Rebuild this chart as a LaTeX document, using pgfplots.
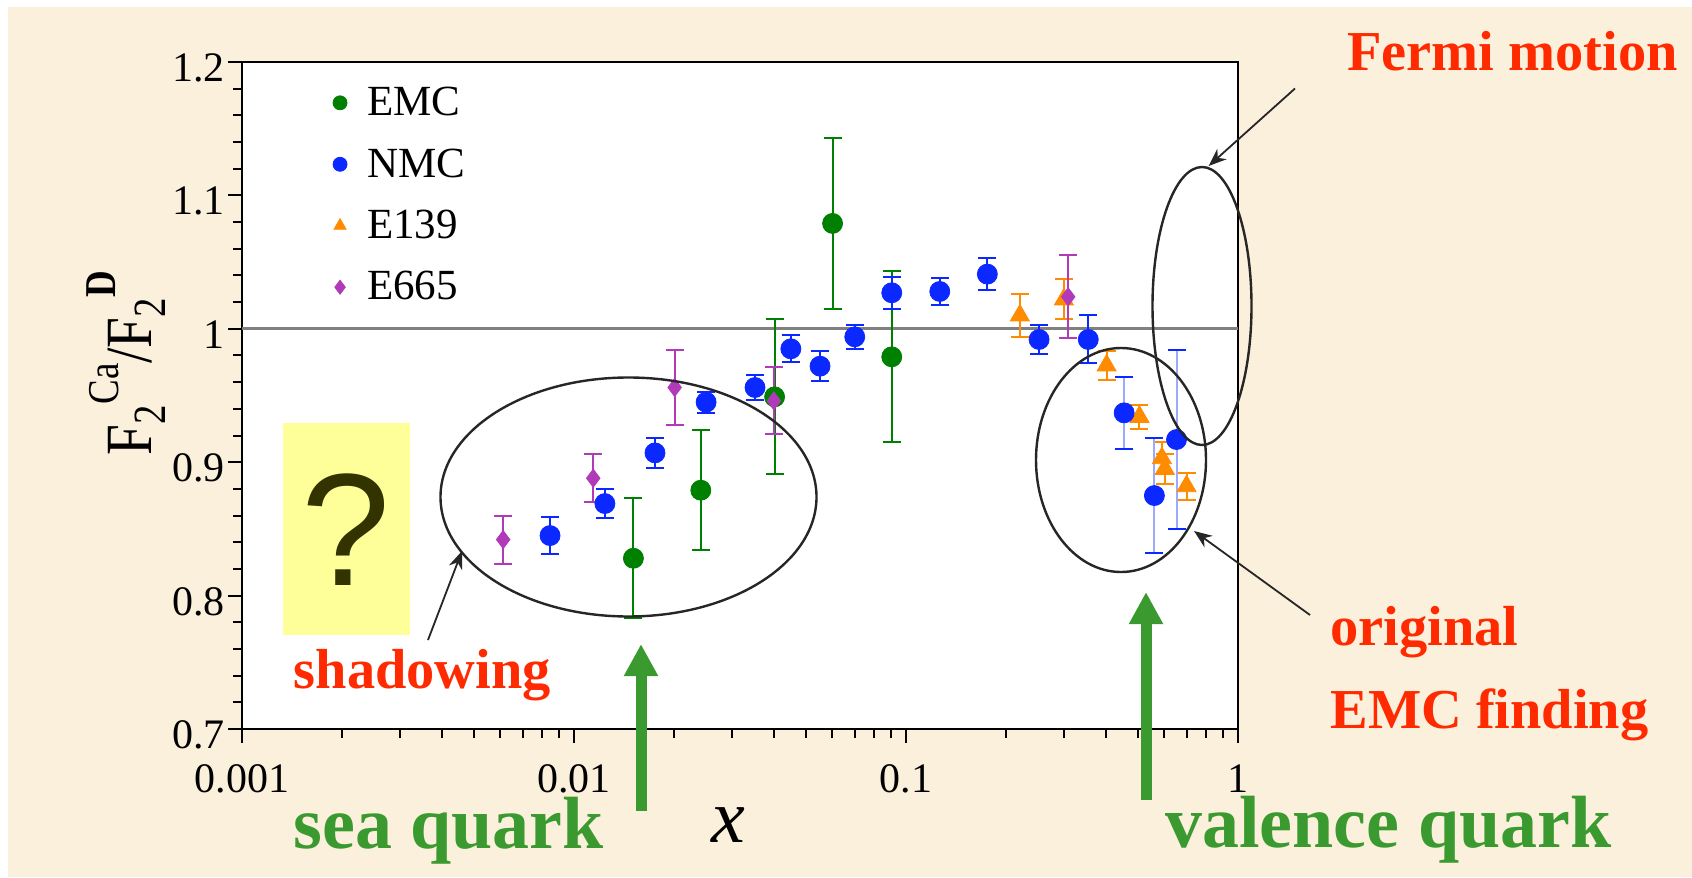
\documentclass[border=0pt]{standalone}
\usepackage{pgfplots}
\pgfplotsset{compat=1.18}
\usepackage{fontspec}
\setmainfont{Liberation Serif}
\newfontfamily\arialfont{Liberation Sans}
\usetikzlibrary{arrows.meta}

\definecolor{bg}{HTML}{FBF0DC}
\definecolor{emc}{HTML}{008000}
\definecolor{nmc}{HTML}{0A28FF}
\definecolor{eorange}{HTML}{FF8C00}
\definecolor{emag}{HTML}{B03AB8}
\definecolor{redtxt}{HTML}{FF2A00}
\definecolor{greentxt}{HTML}{3A9A30}
\definecolor{qyellow}{HTML}{FFFF99}
\definecolor{qdark}{HTML}{333300}

\pgfplotstableread{
x y e
0.0151 0.828 0.045
0.0241 0.879 0.045
0.0402 0.949 0.058
0.0601 1.079 0.064
0.0906 0.979 0.064
}\emcdata

\pgfplotstableread{
x y e
0.00847 0.845 0.014
0.01239 0.869 0.011
0.01754 0.907 0.011
0.0250 0.945 0.008
0.0351 0.956 0.009
0.0450 0.985 0.010
0.0551 0.972 0.011
0.0701 0.994 0.009
0.0906 1.027 0.012
0.1264 1.028 0.010
0.1758 1.041 0.012
0.2517 0.992 0.011
0.354 0.992 0.018
}\nmcdata

\pgfplotstableread{
x y e
0.454 0.937 0.027
0.560 0.875 0.043
0.653 0.917 0.067
}\nmcdatab

\pgfplotstableread{
x y e
0.2203 1.010 0.016
0.299 1.022 0.015
0.402 0.9725 0.011
0.505 0.934 0.009
0.590 0.903 0.012
0.602 0.895 0.011
0.700 0.882 0.010
}\ethreedata

\pgfplotstableread{
x y e
0.00612 0.842 0.018
0.01143 0.888 0.018
0.0201 0.956 0.028
0.0400 0.946 0.025
0.308 1.024 0.031
}\esixdata

\begin{document}
\begin{tikzpicture}
\fill[white] (0,0) rectangle (846pt,-439pt);
\fill[bg] (4pt,-3.5pt) rectangle (846pt,-438.5pt);
\begin{axis}[
  at={(121pt,-364.5pt)}, anchor=south west,
  scale only axis, width=498pt, height=333.5pt,
  xmode=log, xmin=0.001, xmax=1, ymin=0.7, ymax=1.2,
  axis background/.style={fill=white},
  axis line style={line width=1pt, black},
  xtick={0.001,0.01,0.1,1}, xticklabels={0.001,0.01,0.1,1},
  ytick={0.7,0.8,0.9,1.0,1.1,1.2}, yticklabels={0.7,0.8,0.9,1,1.1,1.2},
  minor y tick num=4,
  tick align=outside, xtick pos=bottom, ytick pos=left,
  major tick length=7pt, minor tick length=4.5pt,
  every tick/.style={black, line width=1pt},
  ticklabel style={font=\fontsize{21}{25}\selectfont},
  /pgf/number format/assume math mode=true,
  yticklabel style={inner xsep=1.5pt, yshift=-3pt},
  xticklabel style={inner ysep=0pt, yshift=-10.5pt},
  xlabel={\itshape x},
  xlabel style={font=\fontsize{38}{42}\selectfont, at={([yshift=-56.5pt]axis description cs:0.4888,0)}, anchor=base},
  ylabel={\scalebox{0.84}[1]{F\textsubscript{2}\raisebox{0.5em}{\fontsize{22}{25}\selectfont Ca}/F\textsubscript{2}\raisebox{0.55em}{\fontsize{22}{25}\selectfont\bfseries D}}},
  ylabel style={font=\fontsize{33}{36}\selectfont, at={([xshift=-45pt]axis description cs:0,0.5487)}, anchor=base},
  legend style={draw=none, fill=none, at={(0.085,0.975)}, anchor=north west,
    font=\fontsize{21.5}{25}\selectfont, row sep=11pt,
    /tikz/every odd column/.append style={column sep=8pt}},
  legend cell align=left,
  legend image code/.code={\draw[#1, mark size=3.5pt] plot coordinates {(0cm,0cm)};},
]
\addplot[forget plot, color=gray, line width=1.5pt] coordinates {(0.001,1) (1,1)};

\addplot[only marks, color=emc, mark=*, mark size=5pt,
  error bars/.cd, y dir=both, y explicit,
  error bar style={line width=1pt},
  error mark options={rotate=90, mark size=4.5pt, line width=1pt}]
  table[x=x, y=y, y error=e] {\emcdata};
\addlegendentry{EMC}

\addplot[only marks, color=nmc, mark=*, mark size=5pt,
  error bars/.cd, y dir=both, y explicit,
  error bar style={line width=1pt},
  error mark options={rotate=90, mark size=4.5pt, line width=1pt}]
  table[x=x, y=y, y error=e] {\nmcdata};
\addlegendentry{NMC}

\addplot[only marks, color=eorange, mark=triangle*, mark size=5.5pt,
  error bars/.cd, y dir=both, y explicit,
  error bar style={line width=1pt},
  error mark options={rotate=90, mark size=4.5pt, line width=1pt}]
  table[x=x, y=y, y error=e] {\ethreedata};
\addlegendentry{E139}

\addplot[only marks, color=emag, mark=diamond*, mark size=4.5pt,
  error bars/.cd, y dir=both, y explicit,
  error bar style={line width=1pt},
  error mark options={rotate=90, mark size=4.5pt, line width=1pt}]
  table[x=x, y=y, y error=e] {\esixdata};
\addlegendentry{E665}

\addplot[forget plot, only marks, color=nmc, mark=*, mark size=5pt,
  error bars/.cd, y dir=both, y explicit,
  error bar style={line width=1pt, color=nmc!40},
  error mark options={rotate=90, mark size=4.5pt, line width=1pt, color=nmc}]
  table[x=x, y=y, y error=e] {\nmcdatab};
\end{axis}

\begin{scope}[x=0.5pt, y=-0.5pt]
  % ellipses
  \draw[black!85, line width=1.2pt] (628.5,497) ellipse [x radius=188, y radius=119.5];
  \draw[black!85, line width=1.2pt] (1121,460) ellipse [x radius=85, y radius=112];
  \draw[black!85, line width=1.2pt] (1202,306) ellipse [x radius=49.5, y radius=139];
  % black arrows
  \draw[black!85, line width=0.9pt, -{Stealth[length=9pt, width=7pt]}] (1295,88.5) -- (1208.6,166);
  \draw[black!85, line width=0.9pt, -{Stealth[length=9pt, width=7pt]}] (428,640) -- (462,551);
  \draw[black!85, line width=0.9pt, -{Stealth[length=9pt, width=7pt]}] (1310,615) -- (1194,531);
  % green arrows
  \draw[greentxt, line width=5.5pt, -{Triangle[length=16pt, width=16pt]}] (641,811) -- (641,644);
  \draw[greentxt, line width=5.5pt, -{Triangle[length=16pt, width=16pt]}] (1146,800) -- (1146,592);
  % question box
  \fill[qyellow] (282.7,423) rectangle (410,634.5);
  \node[qdark, font=\arialfont\fontsize{80}{80}\selectfont, inner sep=0pt] at (346,530) {?};
  % texts
  \node[redtxt, font=\bfseries\fontsize{28.2}{31}\selectfont, anchor=base west, inner sep=0pt] at (1347,70) {Fermi motion};
  \node[redtxt, font=\bfseries\fontsize{28.2}{31}\selectfont, anchor=base west, inner sep=0pt] at (293.5,688.5) {shadowing};
  \node[redtxt, font=\bfseries\fontsize{28.2}{31}\selectfont, anchor=base west, inner sep=0pt] at (1330,645) {original};
  \node[redtxt, font=\bfseries\fontsize{28.2}{31}\selectfont, anchor=base west, inner sep=0pt] at (1330,728) {EMC finding};
  \node[greentxt, font=\bfseries\fontsize{37}{40}\selectfont, anchor=base west, inner sep=0pt] at (293,848) {sea quark};
  \node[greentxt, font=\bfseries\fontsize{37}{40}\selectfont, anchor=base west, inner sep=0pt] at (1165,847) {valence quark};
\end{scope}
\end{tikzpicture}
\end{document}
